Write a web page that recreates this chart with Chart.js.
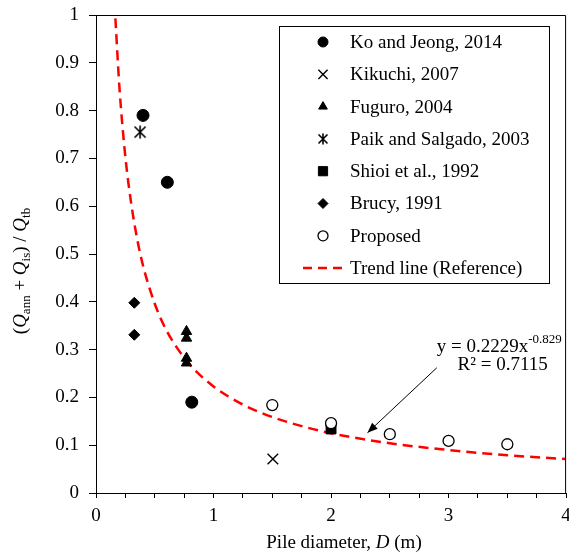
<!DOCTYPE html>
<html><head><meta charset="utf-8">
<script src="https://cdn.jsdelivr.net/npm/chart.js@4/dist/chart.umd.min.js"></script>
<style>html,body{margin:0;padding:0;background:#fff;overflow:hidden}canvas{display:block}</style>
</head><body><canvas id="c" width="575" height="558" style="width:575px;height:558px"></canvas>
<script>
// ---- data ----
const koX = [0.40, 0.607, 0.815];
const koY = [0.79, 0.65, 0.19];
const kikuchiX = [1.505];
const kikuchiY = [0.071];
const fuguroX = [0.77, 0.77, 0.77, 0.77];
const fuguroY = [0.338, 0.324, 0.282, 0.272];
const paikX = [0.375];
const paikY = [0.755];
const shioiX = [2.0];
const shioiY = [0.134];
const brucyX = [0.326, 0.326];
const brucyY = [0.398, 0.331];
const proposedX = [1.5, 2.0, 2.5, 3.0, 3.5];
const proposedY = [0.184, 0.146, 0.123, 0.109, 0.102];
const trendX = [0.165, 0.2, 0.25, 0.3, 0.35, 0.4, 0.5, 0.6, 0.7, 0.8, 1.0, 1.25, 1.5, 1.75, 2.0, 2.5, 3.0, 3.5, 4.0];
const trendY = [0.993, 0.846, 0.703, 0.605, 0.532, 0.476, 0.396, 0.340, 0.300, 0.268, 0.223, 0.185, 0.159, 0.140, 0.125, 0.104, 0.090, 0.079, 0.071];
const seriesNames = ['Ko and Jeong, 2014', 'Kikuchi, 2007', 'Fuguro, 2004', 'Paik and Salgado, 2003', 'Shioi et al., 1992', 'Brucy, 1991', 'Proposed', 'Trend line (Reference)'];
const yTickLabels = ['0', '0.1', '0.2', '0.3', '0.4', '0.5', '0.6', '0.7', '0.8', '0.9', '1'];
const xTickLabels = ['0', '1', '2', '3', '4'];
const eqText = 'y = 0.2229x';
const eqExp = '-0.829';
const r2Text = 'R² = 0.7115';

const FONT = '"Liberation Serif", "Times New Roman", serif';
const pts = (xs, ys) => xs.map((x, i) => ({x: x, y: ys[i]}));

function paikMarker(size) {
  const c = document.createElement('canvas');
  c.width = size; c.height = size;
  const g = c.getContext('2d');
  g.strokeStyle = '#000'; g.lineWidth = 1.6;
  const m = 1.5, s = size - 1.5;
  g.beginPath();
  g.moveTo(m, m); g.lineTo(s, s);
  g.moveTo(s, m); g.lineTo(m, s);
  g.moveTo(size / 2, 0.5); g.lineTo(size / 2, size - 0.5);
  g.stroke();
  return c;
}
const paikImg = paikMarker(14);
const paikLegend = paikMarker(12);

const styles = [
  {pointStyle: 'circle', radius: 6, lr: 5, bg: '#000', bc: '#000', bw: 1},
  {pointStyle: 'crossRot', radius: 7.5, lr: 6.5, bg: '#000', bc: '#000', bw: 1.4},
  {pointStyle: 'triangle', radius: 6, lr: 5, bg: '#000', bc: '#000', bw: 1},
  {pointStyle: paikImg, radius: 7, lr: 6, bg: '#000', bc: '#000', bw: 1, legImg: paikLegend},
  {pointStyle: 'rect', radius: 7, lr: 6.5, bg: '#000', bc: '#000', bw: 1},
  {pointStyle: 'rectRot', radius: 5.5, lr: 5, bg: '#000', bc: '#000', bw: 1},
  {pointStyle: 'circle', radius: 5.5, lr: 5, bg: '#fff', bc: '#000', bw: 1.3}
];
const seriesData = [pts(koX, koY), pts(kikuchiX, kikuchiY), pts(fuguroX, fuguroY), pts(paikX, paikY), pts(shioiX, shioiY), pts(brucyX, brucyY), pts(proposedX, proposedY)];
const orders = [2, 3, 4, 5, 6, 7, 1];

const datasets = seriesData.map((d, i) => ({
  label: seriesNames[i], data: d, showLine: false,
  pointStyle: styles[i].pointStyle, pointRadius: styles[i].radius, pointHoverRadius: styles[i].radius,
  pointBackgroundColor: styles[i].bg, pointBorderColor: styles[i].bc, pointBorderWidth: styles[i].bw,
  order: orders[i]
}));
datasets.push({
  label: seriesNames[7], data: pts(trendX, trendY), showLine: true, pointRadius: 0,
  borderColor: '#ff0000', borderWidth: 2.5, borderDash: [10, 6], cubicInterpolationMode: 'monotone',
  fill: false, order: 10
});

function drawRich(ctx, parts, x, y, align, size) {
  const fontFor = st => (st === 'i' ? 'italic ' : '') + ((st === 's' || st === 'p') ? Math.round(size * 0.68) : size) + 'px ' + FONT;
  let w = 0;
  parts.forEach(p => { ctx.font = fontFor(p[1]); w += ctx.measureText(p[0]).width; });
  let cx = align === 'center' ? x - w / 2 : (align === 'right' ? x - w : x);
  ctx.textAlign = 'left'; ctx.textBaseline = 'alphabetic'; ctx.fillStyle = '#000';
  parts.forEach(p => {
    ctx.font = fontFor(p[1]);
    const dy = p[1] === 's' ? 4 : (p[1] === 'p' ? -8 : 0);
    ctx.fillText(p[0], cx, y + dy);
    cx += ctx.measureText(p[0]).width;
  });
}

const decor = {
  id: 'decor',
  afterDatasetsDraw(chart) {
    const ctx = chart.ctx, a = chart.chartArea;
    const xs = chart.scales.x, ys = chart.scales.y;
    ctx.save();
    ctx.strokeStyle = '#000'; ctx.lineWidth = 1;
    ctx.beginPath();
    ctx.moveTo(a.left, a.top + 0.5); ctx.lineTo(a.right - 0.5, a.top + 0.5); ctx.lineTo(a.right - 0.5, a.bottom);
    ctx.stroke();

    // equation annotation
    const ex = xs.getPixelForValue(2.90), ey = ys.getPixelForValue(0.294);
    ctx.font = '19px ' + FONT; ctx.fillStyle = '#000'; ctx.textAlign = 'left'; ctx.textBaseline = 'alphabetic';
    ctx.fillText(eqText, ex, ey);
    const ew = ctx.measureText(eqText).width;
    ctx.font = '13px ' + FONT;
    ctx.fillText(eqExp, ex + ew, ey - 9);
    ctx.font = '19px ' + FONT; ctx.textAlign = 'center';
    ctx.fillText(r2Text, xs.getPixelForValue(3.46), ys.getPixelForValue(0.257));

    // arrow
    const x1 = xs.getPixelForValue(2.90), y1 = ys.getPixelForValue(0.262);
    const x2 = xs.getPixelForValue(2.31), y2 = ys.getPixelForValue(0.126);
    ctx.strokeStyle = '#000'; ctx.lineWidth = 1;
    ctx.beginPath(); ctx.moveTo(x1, y1); ctx.lineTo(x2, y2); ctx.stroke();
    const ang = Math.atan2(y2 - y1, x2 - x1), L = 11, W = 0.38;
    ctx.fillStyle = '#000';
    ctx.beginPath();
    ctx.moveTo(x2, y2);
    ctx.lineTo(x2 - L * Math.cos(ang - W), y2 - L * Math.sin(ang - W));
    ctx.lineTo(x2 - L * Math.cos(ang + W), y2 - L * Math.sin(ang + W));
    ctx.closePath(); ctx.fill();

    // legend
    const lx = 279, ly = 26, lw = 270, lh = 257;
    ctx.fillStyle = '#fff'; ctx.fillRect(lx, ly, lw, lh);
    ctx.strokeStyle = '#000'; ctx.lineWidth = 1;
    ctx.strokeRect(lx + 0.5, ly + 0.5, lw, lh);
    const rowY0 = 42, rowH = 32.3, mx = 323, tx = 350;
    ctx.font = '19px ' + FONT; ctx.textAlign = 'left'; ctx.textBaseline = 'middle';
    for (let i = 0; i < 8; i++) {
      const ry = rowY0 + i * rowH;
      if (i < 7) {
        const st = styles[i];
        ctx.fillStyle = st.bg; ctx.strokeStyle = st.bc; ctx.lineWidth = st.bw;
        Chart.helpers.drawPoint(ctx, {
          pointStyle: st.legImg ? st.legImg : st.pointStyle,
          radius: st.lr, rotation: 0, borderWidth: st.bw
        }, mx, ry);
      } else {
        ctx.strokeStyle = '#ff0000'; ctx.lineWidth = 2.5; ctx.setLineDash([9, 6]);
        ctx.beginPath(); ctx.moveTo(303, ry); ctx.lineTo(348, ry); ctx.stroke();
        ctx.setLineDash([]);
      }
      ctx.fillStyle = '#000';
      ctx.fillText(seriesNames[i], tx, ry + 1);
    }

    // axis titles
    drawRich(ctx, [['Pile diameter, ', 'n'], ['D', 'i'], [' (m)', 'n']], 344, 548, 'center', 19);
    ctx.save();
    ctx.translate(26, 271);
    ctx.rotate(-Math.PI / 2);
    drawRich(ctx, [['(', 'n'], ['Q', 'i'], ['ann', 's'], [' + ', 'n'], ['Q', 'i'], ['is', 's'], [') / ', 'n'], ['Q', 'i'], ['tb', 's']], 0, 0, 'center', 19);
    ctx.restore();
    ctx.restore();
  }
};

new Chart(document.getElementById('c'), {
  type: 'scatter',
  data: {datasets: datasets},
  options: {
    responsive: false, animation: false, devicePixelRatio: 1,
    layout: {padding: {top: 15, right: 6, left: 0, bottom: 0}},
    plugins: {legend: {display: false}, tooltip: {enabled: false}},
    scales: {
      x: {
        type: 'linear', min: 0, max: 4,
        afterFit: s => { s.height = 65; s.paddingLeft = 0; s.paddingRight = 0; },
        ticks: {
          stepSize: 0.25, autoSkip: false, maxRotation: 0, padding: 7,
          color: '#000', font: {family: FONT, size: 19},
          callback: v => (Math.abs(v - Math.round(v)) < 1e-9 ? xTickLabels[Math.round(v)] : '')
        },
        grid: {drawOnChartArea: false, tickLength: 5, color: '#000', tickColor: '#000', lineWidth: 1},
        border: {color: '#000', width: 1}
      },
      y: {
        type: 'linear', min: 0, max: 1,
        afterFit: s => { s.width = 96; s.paddingTop = 0; s.paddingBottom = 0; },
        ticks: {
          stepSize: 0.1, padding: 10, color: '#000', font: {family: FONT, size: 19},
          callback: (v) => yTickLabels[Math.round(v * 10)]
        },
        grid: {drawOnChartArea: false, tickLength: 7, color: '#000', tickColor: '#000', lineWidth: 1},
        border: {color: '#000', width: 1}
      }
    }
  },
  plugins: [decor]
});
</script>
</body></html>
